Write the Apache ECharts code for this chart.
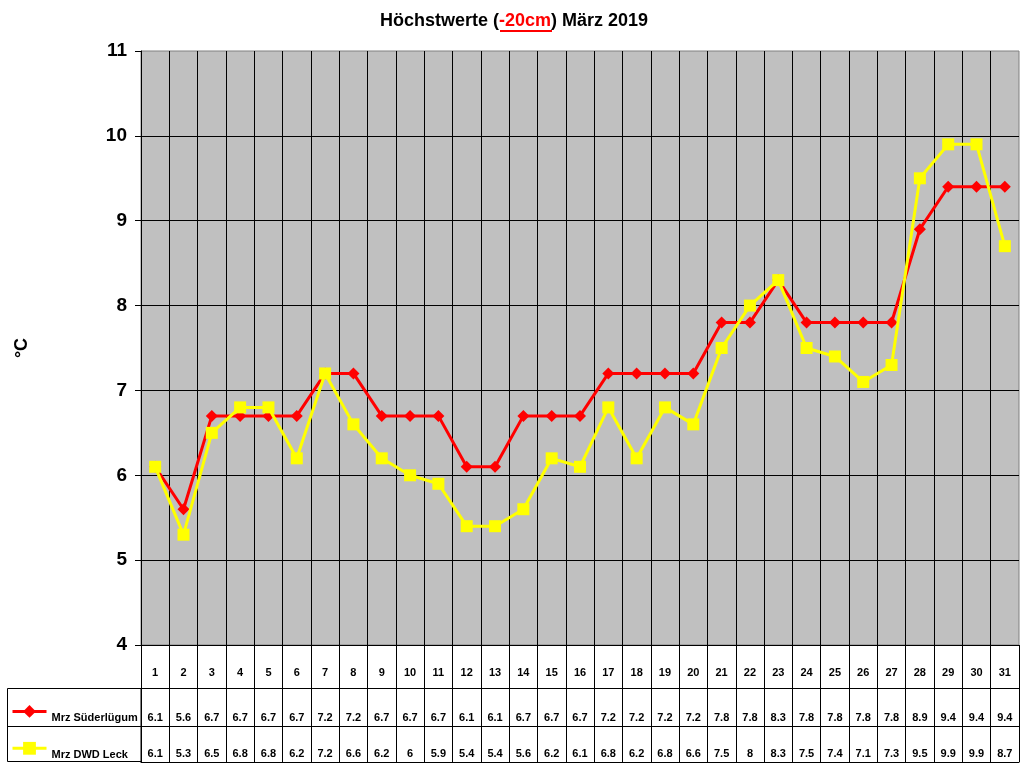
<!DOCTYPE html>
<html>
<head>
<meta charset="utf-8">
<script src="https://cdn.jsdelivr.net/npm/echarts@6/dist/echarts.min.js"></script>
<style>html,body{margin:0;padding:0;background:#fff}#c{width:1024px;height:768px}</style>
</head>
<body>
<div id="c"></div>
<script>
const days = ['1','2','3','4','5','6','7','8','9','10','11','12','13','14','15','16','17','18','19','20','21','22','23','24','25','26','27','28','29','30','31'];
const suederluegum = [6.1,5.6,6.7,6.7,6.7,6.7,7.2,7.2,6.7,6.7,6.7,6.1,6.1,6.7,6.7,6.7,7.2,7.2,7.2,7.2,7.8,7.8,8.3,7.8,7.8,7.8,7.8,8.9,9.4,9.4,9.4];
const leck = [6.1,5.3,6.5,6.8,6.8,6.2,7.2,6.6,6.2,6,5.9,5.4,5.4,5.6,6.2,6.1,6.8,6.2,6.8,6.6,7.5,8,8.3,7.5,7.4,7.1,7.3,9.5,9.9,9.9,8.7];
const seriesNames = ['Mrz Süderlügum','Mrz DWD Leck'];
const yTicks = {min:4, max:11, interval:1};

const chart = echarts.init(document.getElementById('c'));
const F = 'Arial, "Liberation Sans", sans-serif';
const L = 141, R = 1024-1019;
function tableAxis(gi, labels, margin){
  return {type:'category', gridIndex:gi, data:days, boundaryGap:true,
    axisLine:{show:true, lineStyle:{color:'#000', width:1}},
    axisTick:{show:false},
    splitLine:{show:true, interval:0, lineStyle:{color:'#000', width:1}},
    axisLabel:{inside:true, interval:0, margin:margin, color:'#000', fontFamily:F, fontWeight:'bold', fontSize:11,
      formatter:(v, i)=>String(labels[i])}};
}
function hiddenY(gi){ return {type:'value', gridIndex:gi, show:false, min:0, max:1}; }
chart.setOption({
  animation:false,
  backgroundColor:'#fff',
  title:{
    text:'{a|Höchstwerte (}{r|-20cm}{a|) März 2019}',
    left:514, textAlign:'center', top:12, padding:0,
    textStyle:{rich:{
      a:{fontFamily:F, fontWeight:'bold', fontSize:18, color:'#000'},
      r:{fontFamily:F, fontWeight:'bold', fontSize:18, color:'#ff0000'}
    }}
  },
  graphic:[
    {type:'line', shape:{x1:500,y1:31,x2:552,y2:31}, style:{stroke:'#ff0000', lineWidth:2}},
    {type:'rect', shape:{x:7.5,y:688.5,width:L-7.5,height:73}, style:{fill:'none', stroke:'#000', lineWidth:1}, z:10},
    {type:'line', shape:{x1:7.5,y1:726.5,x2:L,y2:726.5}, style:{stroke:'#000', lineWidth:1}, z:10}
  ],
  legend:{
    data:seriesNames, orient:'vertical', left:11, top:705, padding:0, itemWidth:34, itemHeight:16, itemGap:18,
    formatter:n=>'{t|'+n+'}',
    lineStyle:{width:3},
    textStyle:{rich:{t:{fontFamily:F, fontWeight:'bold', fontSize:11, color:'#000', padding:[14,0,0,0]}}},
    selectedMode:false
  },
  grid:[
    {left:L, right:R, top:51, bottom:768-645, show:true, backgroundColor:'#C0C0C0', borderColor:'#808080', borderWidth:1},
    {left:L, right:R, top:645, height:43, show:false},
    {left:L, right:R, top:688, height:38, show:false},
    {left:L, right:R, top:726, height:36, show:false}
  ],
  xAxis:[
    {type:'category', gridIndex:0, data:days, boundaryGap:true,
      axisLine:{show:true, lineStyle:{color:'#000'}}, axisTick:{show:false}, axisLabel:{show:false},
      splitLine:{show:true, interval:0, showMaxLine:false, lineStyle:{color:'#000', width:1}}},
    tableAxis(1, days, 10),
    tableAxis(2, suederluegum, 3),
    tableAxis(3, leck, 3)
  ],
  yAxis:[
    {type:'value', gridIndex:0, min:yTicks.min, max:yTicks.max, interval:yTicks.interval,
      name:'°C', nameLocation:'middle', nameGap:110,
      nameTextStyle:{fontFamily:F, fontWeight:'bold', fontSize:18, color:'#000'},
      axisLine:{show:true, lineStyle:{color:'#000'}},
      axisTick:{show:true, length:6, lineStyle:{color:'#000'}},
      axisLabel:{margin:14, color:'#000', fontFamily:F, fontWeight:'bold', fontSize:19},
      splitLine:{show:true, showMaxLine:false, lineStyle:{color:'#000', width:1}}},
    hiddenY(1), hiddenY(2), hiddenY(3)
  ],
  series:[
    {name:seriesNames[0], type:'line', xAxisIndex:0, yAxisIndex:0, data:suederluegum,
      symbol:'diamond', symbolSize:12, color:'#ff0000',
      lineStyle:{color:'#ff0000', width:3}, itemStyle:{color:'#ff0000'}, z:3},
    {name:seriesNames[1], type:'line', xAxisIndex:0, yAxisIndex:0, data:leck,
      symbol:'rect', symbolSize:12, color:'#ffff00',
      lineStyle:{color:'#ffff00', width:3}, itemStyle:{color:'#ffff00'}, z:4}
  ]
});
</script>
</body>
</html>
